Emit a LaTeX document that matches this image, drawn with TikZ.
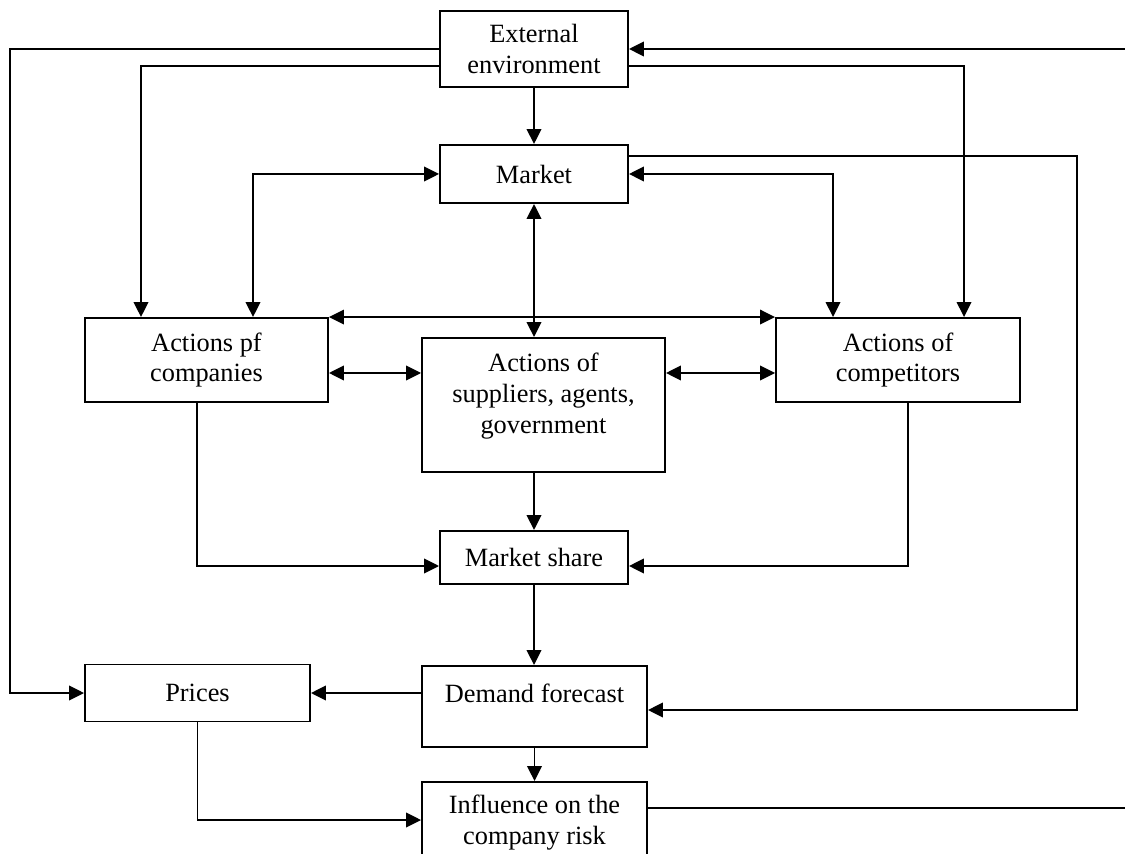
\documentclass[tikz,border=0pt]{standalone}
\usepackage{fontspec}
\setmainfont{Liberation Serif}
\usetikzlibrary{arrows.meta,calc}
\newcommand{\lifttext}[2]{\raisebox{#1}[\height][\depth]{#2}}

\begin{document}
\begin{tikzpicture}[x=0.02cm, y=-0.02cm, line width=1.1pt,
        >={Triangle[length=0.3cm,width=0.29cm]},
        blk/.style={draw, align=center, inner sep=0pt, font=\fontsize{15}{17.6}\selectfont}]
        \useasboundingbox (0,0) rectangle (1125,854);
        \clip (0,0) rectangle (1125,854);

        \node[blk, minimum width=3.76cm, minimum height=1.52cm] (ext) at (534,49) {External\\environment};
        \node[blk, minimum width=3.76cm, minimum height=1.16cm] (market) at (534,174) {Market};
        \node[blk, minimum width=4.86cm, minimum height=1.68cm] (comp) at (206.5,360) {Actions pf\\companies};
        \node[blk, minimum width=4.86cm, minimum height=2.68cm] (supp) at (543.5,405)
            {\lifttext{0.17cm}{\begin{tabular}{@{}c@{}}Actions of\\suppliers, agents,\\government\end{tabular}}};
        \node[blk, minimum width=4.88cm, minimum height=1.68cm] (compet) at (898,360) {Actions of\\competitors};
        \node[blk, minimum width=3.76cm, minimum height=1.06cm] (share) at (534,557.5) {Market share};
        \node[blk, minimum width=4.5cm, minimum height=1.14cm] (prices) at (197.5,693) {Prices};
        \node[blk, minimum width=4.5cm, minimum height=1.62cm] (demand) at (534.5,706.5) {\lifttext{0.27cm}{Demand forecast}};
        \node[blk, minimum width=4.5cm, minimum height=1.64cm] (infl) at (534.5,823) {Influence on the\\company risk};

        % loose ends at the right edge
        \coordinate (fbin) at (1125,49);
        \coordinate (fbout) at (1125,808);

        \draw[->] (ext.west) -- ++(-429,0) |- (prices.west);
        \draw[->] ($(ext.west)+(0,17)$) -| ($(comp.north)+(-65.5,0)$);
        \draw[->] (fbin) -- (ext.east);
        \draw[->] ($(ext.east)+(0,17)$) -| ($(compet.north)+(66,0)$);
        \draw[->] (ext) -- (market);
        \draw[->] ($(market.east)+(0,-18)$) -- ++(448,0) |- ($(demand.east)+(0,3.5)$);

        \draw[<->] (market.west) -| ($(comp.north)+(46.5,0)$);
        \draw[<->] (market.east) -| ($(compet.north)+(-65,0)$);
        \draw[<->] (market.south) -- (market.south |- supp.north);
        \draw[<->] (comp.north east) -- (compet.north west);
        \draw[<->] ($(comp.east)+(0,13)$) -- ($(supp.west)+(0,-32)$);
        \draw[<->] ($(supp.east)+(0,-32)$) -- ($(compet.west)+(0,13)$);

        \draw[->] ($(comp.south)+(-9.5,0)$) |- ($(share.west)+(0,8.5)$);
        \draw[->] ($(compet.south)+(10,0)$) |- ($(share.east)+(0,8.5)$);
        \draw[->] (share.north |- supp.south) -- (share.north);
        \draw[->] (share.south) -- (share.south |- demand.north);
        \draw[->] ($(demand.west)+(0,-13.5)$) -- (prices.east);
        \draw[->] (demand) -- (infl);
        \draw[->] (prices.south) |- ($(infl.west)+(0,-3)$);
        \draw ($(infl.east)+(0,-15)$) -- (fbout);
    \end{tikzpicture}
\end{document}
